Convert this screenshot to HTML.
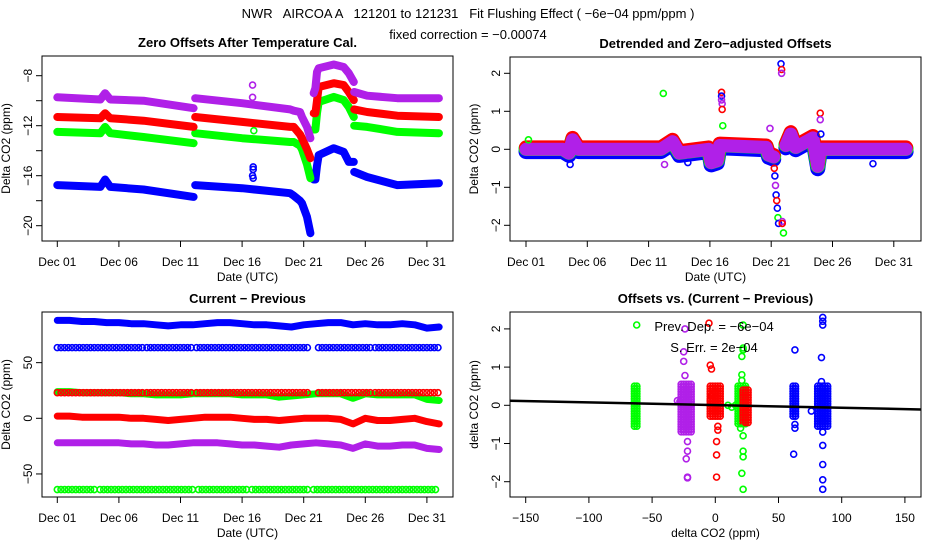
<!DOCTYPE html>
<html><head><meta charset="utf-8"><style>
html,body{margin:0;padding:0;background:#fff}
svg{display:block;font-family:"Liberation Sans",sans-serif}
</style></head><body>
<svg id="c" width="936" height="540" viewBox="0 0 936 540" xmlns="http://www.w3.org/2000/svg">
<rect width="936" height="540" fill="#fff"/>
<text x="468" y="18" text-anchor="middle" font-size="13" xml:space="preserve">NWR   AIRCOA A   121201 to 121231   Fit Flushing Effect ( −6e−04 ppm/ppm )</text>
<text x="468" y="39" text-anchor="middle" font-size="13">fixed correction = −0.00074</text>
</svg>
<script>
// ---------- DATA ----------
const p1Days = [1, 4.5, 4.88, 5.3, 8, 12.06, null, 12.19, 16, 19.9, 20.2, 20.7, 20.86, 21.27, 21.54, null, 21.81, 21.95, 22.08, 22.22, 23.44, 24.25, 24.66, 25.07, null, 25.1, 26.15, 28.6, 31.97];
const p1Purple = [-9.73, -9.9, -9.4, -9.9, -10.0, -10.6, null, -9.8, -10.2, -10.7, -10.8, -10.9, -11.3, -12.1, -13.0, null, -9.4, -9.0, -7.7, -7.4, -7.1, -7.3, -7.8, -8.5, null, -9.3, -9.6, -9.8, -9.8];
const p1Red = [-11.3, -11.4, -11.0, -11.4, -11.6, -12.1, null, -11.3, -11.7, -12.1, -12.1, -12.7, -13.0, -13.9, -14.6, null, -11.0, -11.0, -10.0, -8.9, -8.6, -8.75, -9.3, -9.95, null, -10.7, -10.9, -11.2, -11.3];
const p1Green = [-12.5, -12.6, -12.1, -12.6, -12.9, -13.4, null, -12.6, -13.0, -13.3, -13.3, -13.6, -13.9, -15.1, -16.2, null, -12.3, -12.3, -11.0, -10.1, -9.7, -9.95, -10.5, -11.3, null, -12.0, -12.1, -12.5, -12.6];
const p1Blue = [-16.75, -16.9, -16.3, -16.9, -17.1, -17.7, null, -16.75, -17.0, -17.4, -17.6, -18.0, -18.2, -19.3, -20.6, null, -16.3, -16.3, -15.2, -14.35, -13.8, -14.1, -14.9, -14.9, null, -15.7, -16.1, -16.75, -16.6];
const p1OutDays = [16.85, 16.85, 16.9, 16.9, 16.85, 16.9, 16.95];
const p1OutVals = [-8.75, -9.73, -15.3, -15.5, -16.0, -16.2, -12.4];
const p1OutCols = ["purple", "purple", "blue", "blue", "blue", "blue", "green"];

const p2Days = [1, 4, 4.5, 4.8, 5.3, 8, 12, 12.96, 13.5, 15.9, 16.1, 16.6, 16.8, 20.6, 20.8, 21.2, null, 22.2, 22.6, 23, 24.4, 24.8, 25.0, 28, 32];
const p2Band = [0, 0, -0.1, 0.25, 0.0, 0.0, 0.0, 0.2, -0.1, 0.0, -0.35, -0.3, 0.1, 0.05, -0.15, -0.2, null, 0.1, 0.4, 0.05, 0.3, -0.45, 0.0, 0.0, 0.0];
const p2OutDays = [1.2, 12.2, 16.95, 16.95, 16.95, 17.0, 17.0, 17.05, 21.25, 21.3, 21.35, 21.4, 21.45, 21.5, 21.55, 21.6, 21.9, 21.9, 22.0, 21.8, 21.85, 21.85, 20.9, 25.0, 25.0, 25.05, 12.3, 4.6, 14.2, 29.3];
const p2OutVals = [0.25, 1.47, 1.5, 1.4, 1.3, 1.2, 1.05, 0.62, -0.5, -0.7, -0.95, -1.2, -1.35, -1.55, -1.8, -1.95, -1.9, -1.95, -2.2, 2.25, 2.1, 2.0, 0.55, 0.95, 0.78, 0.4, -0.4, -0.4, -0.35, -0.38];
const p2OutCols = ["green","green","red","blue","purple","purple","red","green","red","blue","purple","blue","red","blue","green","blue","purple","red","green","blue","red","purple","purple","red","purple","blue","purple","blue","blue","blue"];

const p3Days = [1,2,3,4,5,6,7,8,9,10,11,12,13,14,15,16,17,18,19,20,21,22,23,24,25,26,27,28,29,30,31,32];
const p3BlueHi = [88,88,87,87,86,86,85,85,84,83,84,84,85,86,86,85,84,84,83,82,84,85,86,86,84,85,84,84,85,84,81,82];
const p3GreenHi = [24,24,23,23,23,23,22,22,21,21,21,22,22,22,22,21,21,21,19,20,21,22,22,22,18,22,21,21,21,21,17,16];
const p3Red = [2,2,1,1,1,1,0,0,-1,-2,-1,0,1,1,1,0,-1,-1,-2,-1,0,0,0,-1,-5,0,-2,-2,-1,0,-3,-5];
const p3Purple = [-22,-22,-22,-22,-22,-22,-23,-23,-24,-24,-23,-22,-22,-22,-23,-24,-24,-25,-26,-24,-23,-22,-23,-24,-27,-23,-25,-25,-24,-24,-27,-28];
const p3BlueLowVal = 63.5;
const p3RedLowVal = 23;
const p3GreenLowVal = -64;
const p3BlueRedSegStart = [1, 8.27, 12.3, 22.2, 26.8];
const p3BlueRedSegEnd = [8.0, 11.9, 21.5, 26.55, 32];
const p3GreenSegStart = [1, 4.47, 12.46, 16.8, 21.8];
const p3GreenSegEnd = [4.2, 12.2, 16.5, 21.5, 32];

const p4ClusterX = [-63, -23, 0, 21, 24, 63, 85];
const p4ClusterHalfW = [1, 4, 4, 3, 2, 1.5, 4];
const p4ClusterMin = [-0.55, -0.75, -0.3, -0.5, -0.5, -0.3, -0.6];
const p4ClusterMax = [0.5, 0.55, 0.5, 0.5, 0.4, 0.5, 0.5];
const p4ClusterCols = ["green", "purple", "red", "green", "red", "blue", "blue"];
const p4OutX = [-24,-25,-25,-24,-22,-22,-23,-22,-22,-5,-4,-3,2,2,1,1,1,-3,22,22,22,21,21,21,20,22,22,22,21,22,63,63,63,62,85,85,85,84,84,85,85,85,85,85,76,10,13,16,-28,-30,-4];
const p4OutY = [2.0,1.4,1.15,0.78,-0.95,-1.2,-1.4,-1.9,-1.88,2.15,1.05,0.95,-0.55,-0.65,-0.95,-1.3,-1.88,0.25,2.1,1.5,1.45,1.28,0.8,0.65,-0.6,-0.8,-1.2,-1.35,-1.78,-2.2,1.45,-0.5,-0.6,-1.28,2.3,2.2,2.1,1.25,0.62,-0.7,-1.05,-1.55,-1.95,-2.2,-0.15,0.0,-0.05,0.0,0.1,0.12,0.12];
const p4OutCols = ["purple","purple","purple","purple","purple","purple","purple","purple","purple","red","red","red","red","red","red","red","red","red","green","green","green","green","green","green","green","green","green","green","green","green","blue","blue","blue","blue","blue","blue","blue","blue","blue","blue","blue","blue","blue","blue","blue","green","green","green","purple","purple","red"];
const fitSlope = -0.0007;
const fitIntercept = 0.005;

// ---------- RENDER ----------
const NS = "http://www.w3.org/2000/svg";
const svg = document.getElementById("c");
const COL = {blue:"#0000ff", red:"#ff0000", green:"#00ff00", purple:"#b020e8"};
function mk(tag, attrs, parent){const e=document.createElementNS(NS,tag);for(const k in attrs)e.setAttribute(k,attrs[k]);(parent||svg).appendChild(e);return e;}

function panel(name, box, xs, ys, xticks, xlabels, yticks, ylabels, title, xtitle, ytitle){
  const g = mk("g",{});
  
  
  const [x0,x1,y0,y1]=box;
  const t = mk("text",{x:(x0+x1)/2,y:y0-9,"text-anchor":"middle","font-size":13,"font-weight":"bold"},g);
  t.textContent=title;
  
  
  const fr = mk("rect",{x:x0,y:y0,width:x1-x0,height:y1-y0,fill:"none",stroke:"#000","stroke-width":1},g);
  
  
  const xa = mk("g",{},g);
  
  
  xticks.forEach((v,i)=>{const px=xs(v);
    mk("line",{x1:px,x2:px,y1:y1,y2:y1+6,stroke:"#000"},xa);
    const l=mk("text",{x:px,y:y1+25,"text-anchor":"middle","font-size":12},xa);l.textContent=xlabels[i];
    
    
  });
  const xt=mk("text",{x:(x0+x1)/2,y:y1+40,"text-anchor":"middle","font-size":12},g);xt.textContent=xtitle;
  
  
  const ya = mk("g",{},g);
  
  
  yticks.forEach((v,i)=>{const py=ys(v);
    mk("line",{x1:x0-6,x2:x0,y1:py,y2:py,stroke:"#000"},ya);
    if(ylabels[i]!==""){const l=mk("text",{x:x0-14,y:py,"text-anchor":"middle","font-size":12,transform:`rotate(-90 ${x0-14} ${py})`,dy:"4"},ya);l.textContent=ylabels[i];
    
    }
  });
  const cy=(y0+y1)/2, cx=x0-32;
  const yt=mk("text",{x:cx,y:cy,"text-anchor":"middle","font-size":12,transform:`rotate(-90 ${cx} ${cy})`},g);yt.textContent=ytitle;
  
  
  const clipId="clip"+name;
  const cp=mk("clipPath",{id:clipId},g);mk("rect",{x:x0,y:y0,width:x1-x0,height:y1-y0},cp);
  const plot=mk("g",{"clip-path":`url(#${clipId})`},g);
  
  
  return plot;
}
function band(parent, xs, ys, xv, yv, col, w, nm){
  let d="", pen=false;
  for(let i=0;i<xv.length;i++){
    if(xv[i]===null||yv[i]===null){pen=false;continue;}
    d+=(pen?"L":"M")+xs(xv[i]).toFixed(1)+","+ys(yv[i]).toFixed(1);pen=true;
  }
  const p=mk("path",{d:d,fill:"none",stroke:col,"stroke-width":w,"stroke-linejoin":"round","stroke-linecap":"round"},parent);
  
  
  return p;
}
function pt(parent,x,y,col,nm){
  const c=mk("circle",{cx:x,cy:y,r:3,fill:"none",stroke:col,"stroke-width":1.6},parent);
  
  
}
const dayTicks=[1,6,11,16,21,26,31];
const dayLabels=["Dec 01","Dec 06","Dec 11","Dec 16","Dec 21","Dec 26","Dec 31"];

// Panel 1
{
  const xs=d=>57.3+(d-1)*12.32, ys=v=>75.7+(-8-v)*12.5;
  const pl=panel("zero-offsets-panel",[42,453,56,241],xs,ys,dayTicks,dayLabels,[-8,-10,-12,-14,-16,-18,-20],["−8","","−12","","−16","","−20"],"Zero Offsets After Temperature Cal.","Date (UTC)","Delta CO2 (ppm)");
  band(pl,xs,ys,p1Days,p1Blue,COL.blue,8,"series-blue");
  band(pl,xs,ys,p1Days,p1Green,COL.green,8,"series-green");
  band(pl,xs,ys,p1Days,p1Red,COL.red,8,"series-red");
  band(pl,xs,ys,p1Days,p1Purple,COL.purple,8,"series-purple");
  p1OutDays.forEach((d,i)=>pt(pl,xs(d),ys(p1OutVals[i]),COL[p1OutCols[i]],"outlier-point"));
}
// Panel 2
{
  const xs=d=>526+(d-1)*12.26, ys=v=>149.3-v*38;
  const pl=panel("detrended-panel",[510,921,57,241],xs,ys,dayTicks,dayLabels,[2,1,0,-1,-2],["2","1","0","−1","−2"],"Detrended and Zero−adjusted Offsets","Date (UTC)","Delta CO2 (ppm)");
  band(pl,xs,ys,p2Days,p2Band.map(v=>v===null?null:v-0.06),COL.blue,15,"series-blue");
  band(pl,xs,ys,p2Days,p2Band.map(v=>v===null?null:v+0.02),COL.green,15,"series-green");
  band(pl,xs,ys,p2Days,p2Band.map(v=>v===null?null:v+0.05),COL.red,14,"series-red");
  band(pl,xs,ys,p2Days,p2Band,COL.purple,13,"series-purple");
  p2OutDays.forEach((d,i)=>pt(pl,xs(d),ys(p2OutVals[i]),COL[p2OutCols[i]],"outlier-point"));
}
// Panel 3
{
  const xs=d=>57.3+(d-1)*12.32, ys=v=>418.3-v*1.113;
  const pl=panel("current-previous-panel",[42,453,312,497],xs,ys,dayTicks,dayLabels,[50,0,-50],["50","0","−50"],"Current − Previous","Date (UTC)","Delta CO2 (ppm)");
  function row(val,starts,ends,col,nm){
    starts.forEach((s,i)=>{for(let d=s; d<=ends[i]; d+=0.3) pt(pl,xs(d),ys(val),col,nm);});
  }
  row(p3BlueLowVal,p3BlueRedSegStart,p3BlueRedSegEnd,COL.blue,"blue-low-point");
  band(pl,xs,ys,p3Days,p3GreenHi,COL.green,7,"series-green-high");
  row(p3RedLowVal,p3BlueRedSegStart,p3BlueRedSegEnd,COL.red,"red-low-point");
  row(p3GreenLowVal,p3GreenSegStart,p3GreenSegEnd,COL.green,"green-low-point");
  band(pl,xs,ys,p3Days,p3BlueHi,COL.blue,7,"series-blue-high");
  band(pl,xs,ys,p3Days,p3Red,COL.red,7,"series-red");
  band(pl,xs,ys,p3Days,p3Purple,COL.purple,7,"series-purple");
}
// Panel 4
{
  const xs=v=>715.3+v*1.264, ys=v=>405.3-v*38.2;
  const pl=panel("offsets-vs-delta-panel",[510,921,312,497],xs,ys,[-150,-100,-50,0,50,100,150],["−150","−100","−50","0","50","100","150"],[2,1,0,-1,-2],["2","1","0","−1","−2"],"Offsets vs. (Current − Previous)","delta CO2 (ppm)","delta CO2 (ppm)");
  p4ClusterX.forEach((cx,i)=>{
    const g=mk("g",{},pl);
    
    
    const xa=xs(cx-p4ClusterHalfW[i]), xb=xs(cx+p4ClusterHalfW[i]);
    const ya=ys(p4ClusterMax[i]), yb=ys(p4ClusterMin[i]);
    for(let y=ya;y<=yb;y+=2.5) for(let x=xa;x<=xb+0.1;x+=2.5)
      mk("circle",{cx:x,cy:y,r:3,fill:"none",stroke:COL[p4ClusterCols[i]],"stroke-width":1.6},g);
  });
  p4OutX.forEach((x,i)=>pt(pl,xs(x),ys(p4OutY[i]),COL[p4OutCols[i]],"outlier-point"));
  const fl=mk("line",{x1:xs(-170),y1:ys(fitIntercept+fitSlope*-170),x2:xs(170),y2:ys(fitIntercept+fitSlope*170),stroke:"#000","stroke-width":2.5},pl);
  
  
  pt(pl,636.7,325,COL.green,"legend-marker");
  const t1=mk("text",{x:714,y:331,"text-anchor":"middle","font-size":13},pl);t1.textContent="Prev. Dep. =  −6e−04";
  
  
  const t2=mk("text",{x:714,y:352,"text-anchor":"middle","font-size":13},pl);t2.textContent="S. Err. =  2e−04";
  
  
}
</script>
</body></html>
